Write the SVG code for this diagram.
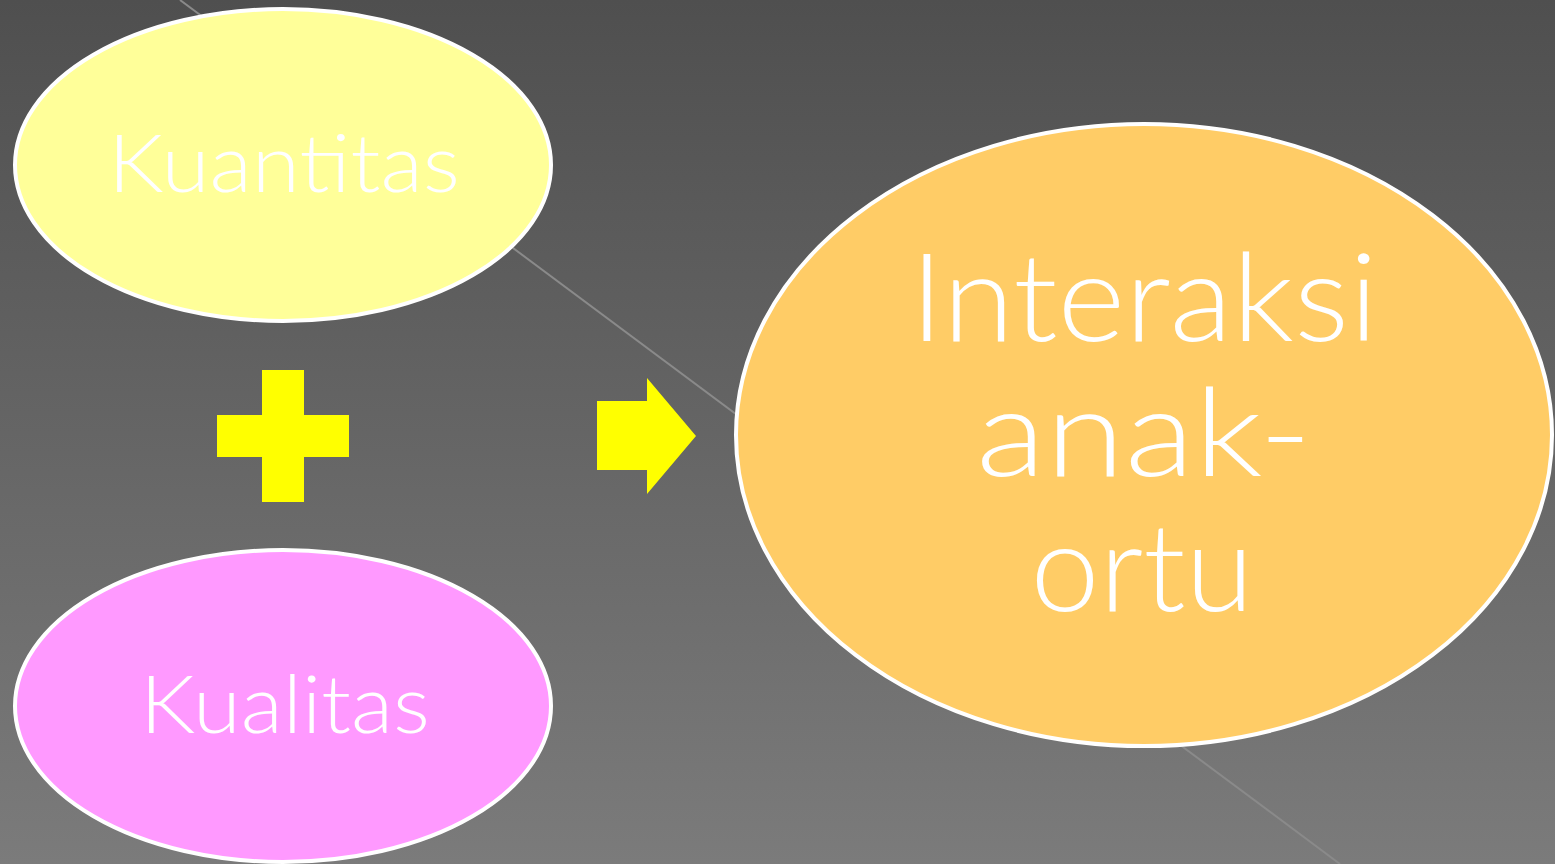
<svg xmlns="http://www.w3.org/2000/svg" width="1555" height="864" viewBox="0 0 1555 864">
<defs>
<linearGradient id="bg" x1="0" y1="0" x2="0" y2="1">
<stop offset="0" stop-color="#4f4f4f"/>
<stop offset="1" stop-color="#7b7b7b"/>
</linearGradient>
</defs>
<style>
.node{stroke:#ffffff;stroke-width:4}
.lbl{fill:#ffffff;font-family:"Lato","Open Sans","Liberation Sans",sans-serif;font-weight:300;text-anchor:middle}
.sym{fill:#ffff00}
</style>
<rect x="0" y="0" width="1555" height="864" fill="url(#bg)"/>
<g id="connectors">
<line x1="180" y1="0" x2="1340" y2="864" stroke="#8a8a8a" stroke-width="2"/>
</g>
<g id="kuantitas">
<ellipse class="node" cx="283" cy="165" rx="268" ry="156" fill="#ffff99"/>
<text class="lbl" x="284" y="192" font-size="80" textLength="352" lengthAdjust="spacingAndGlyphs">Kuantitas</text>
</g>
<g id="plus">
<rect class="sym" x="262" y="370" width="42" height="132"/>
<rect class="sym" x="217" y="415" width="132" height="42"/>
</g>
<g id="kualitas">
<ellipse class="node" cx="283" cy="706" rx="268" ry="156" fill="#ff99ff"/>
<text class="lbl" x="285" y="733" font-size="80" textLength="290" lengthAdjust="spacingAndGlyphs">Kualitas</text>
</g>
<g id="arrow">
<polygon class="sym" points="597,401 647,401 647,378 696,436 647,494 647,470 597,470"/>
</g>
<g id="interaksi">
<ellipse class="node" cx="1144" cy="435" rx="408" ry="311" fill="#ffcc66"/>
<text class="lbl" x="1144" y="341" font-size="122" textLength="468" lengthAdjust="spacingAndGlyphs">Interaksi</text>
<text class="lbl" x="1144" y="476" font-size="122" textLength="336" lengthAdjust="spacingAndGlyphs">anak-</text>
<text class="lbl" x="1142" y="611" font-size="122" textLength="223" lengthAdjust="spacingAndGlyphs">ortu</text>
</g>
</svg>
